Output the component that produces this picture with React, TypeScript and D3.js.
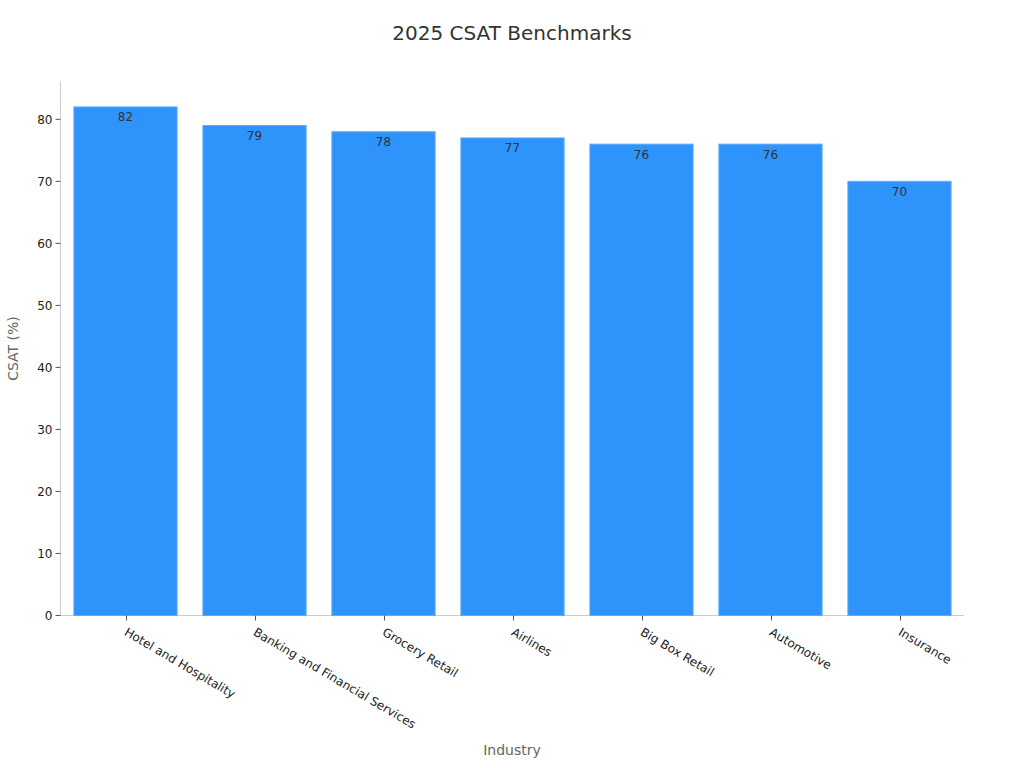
import React from "react";
import * as d3 from "d3";

const categories = [
  "Hotel and Hospitality",
  "Banking and Financial Services",
  "Grocery Retail",
  "Airlines",
  "Big Box Retail",
  "Automotive",
  "Insurance",
];
const values = [82, 79, 78, 77, 76, 76, 70];
const yTicks = [0, 10, 20, 30, 40, 50, 60, 70, 80];

const W = 1024;
const H = 768;
const M = { left: 60.5, right: 60, top: 81.5, bottom: 152.5 };
const FONT = "DejaVu Sans, sans-serif";

export default function App() {
  const x = d3
    .scaleBand<string>()
    .domain(categories)
    .range([M.left + 0.5, W - M.right])
    .paddingInner(0.2)
    .paddingOuter(0.1);
  const y = d3
    .scaleLinear()
    .domain([0, d3.max(values)! * 1.05])
    .range([H - M.bottom, M.top]);
  const base = y(0);

  return (
    <svg
      width={W}
      height={H}
      style={{ position: "absolute", left: 0, top: 0, background: "#fff" }}
      fontFamily={FONT}
    >
      <text x={512} y={40} textAnchor="middle" fontSize={20} fill="#333">
        2025 CSAT Benchmarks
      </text>
      {/* axes lines */}
      <line x1={M.left} x2={M.left} y1={M.top} y2={base} stroke="#ccc" strokeWidth={1} />
      <line x1={M.left} x2={W - M.right} y1={base} y2={base} stroke="#ccc" strokeWidth={1} />
      {/* bars */}
      {categories.map((c, i) => (
        <g key={c}>
          <rect
            x={x(c)!}
            y={y(values[i])}
            width={x.bandwidth()}
            height={base - y(values[i])}
            fill="#2e93fa"
            stroke="#5aacfb"
            strokeWidth={1}
          />
          <text
            x={x(c)! + x.bandwidth() / 2}
            y={y(values[i]) + 14.5}
            textAnchor="middle"
            fontSize={12}
            fill="#333"
          >
            {values[i]}
          </text>
        </g>
      ))}
      {/* y ticks */}
      {yTicks.map((t) => (
        <g key={t}>
          <line x1={M.left - 5} x2={M.left} y1={y(t)} y2={y(t)} stroke="#555" />
          <text
            x={M.left - 8}
            y={y(t)}
            dy="0.35em"
            textAnchor="end"
            fontSize={12}
            fill="#222"
          >
            {t}
          </text>
        </g>
      ))}
      {/* x ticks */}
      {categories.map((c) => {
        const cx = Math.round(x(c)! + x.bandwidth() / 2) + 0.5;
        return (
          <g key={c}>
            <line x1={cx} x2={cx} y1={base} y2={base + 5} stroke="#555" />
            <text
              transform={`translate(${cx - 3},${base + 19}) rotate(30.5)`}
              textAnchor="start"
              fontSize={12}
              fill="#222"
            >
              {c}
            </text>
          </g>
        );
      })}
      <text x={512} y={755} textAnchor="middle" fontSize={14} fill="#666">
        Industry
      </text>
      <text
        transform={`translate(18,${(M.top + base) / 2}) rotate(-90)`}
        textAnchor="middle"
        fontSize={14}
        fill="#666"
      >
        CSAT (%)
      </text>
    </svg>
  );
}
